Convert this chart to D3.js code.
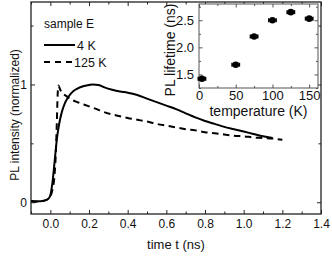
<!DOCTYPE html>
<html>
<head>
<meta charset="UTF-8">
<style>
  body { margin: 0; background: #fff; }
  svg { display: block; }
  text { font-family: "Liberation Sans", Arial, sans-serif; fill: #111; }
  .axis path { display: none; }
  .axis line { stroke: #222; stroke-width: 1; }
  .inset .axis line { stroke: #555; }
</style>
</head>
<body>
<svg width="332" height="256"></svg>
<script src="https://d3js.org/d3.v7.min.js"></script>
<script>
  // 4 K trace (time in ns, normalized PL)
  const t4 = [-0.1, -0.08, -0.06, -0.04, -0.02, -0.01, 0.0, 0.007, 0.014, 0.02, 0.026, 0.034, 0.042, 0.05,
    0.062, 0.075, 0.09, 0.105, 0.12, 0.14, 0.17, 0.2, 0.22, 0.25, 0.28, 0.32, 0.36, 0.40, 0.45, 0.50,
    0.55, 0.60, 0.65, 0.70, 0.75, 0.80, 0.85, 0.90, 0.95, 1.00, 1.05, 1.10, 1.15];
  const pl4 = [0.01, 0.005, 0.008, 0.01, 0.02, 0.03, 0.06, 0.12, 0.21, 0.31, 0.41, 0.54, 0.63, 0.70,
    0.78, 0.84, 0.885, 0.92, 0.945, 0.965, 0.985, 0.995, 1.0, 0.995, 0.975, 0.955, 0.94, 0.93, 0.91, 0.88,
    0.85, 0.82, 0.79, 0.755, 0.72, 0.69, 0.665, 0.64, 0.62, 0.60, 0.58, 0.56, 0.545];

  // 125 K trace
  const t125 = [-0.1, -0.06, -0.02, 0.0, 0.01, 0.02, 0.028, 0.034, 0.038, 0.042, 0.05, 0.06, 0.08, 0.10,
    0.14, 0.19, 0.24, 0.27, 0.32, 0.36, 0.40, 0.45, 0.50, 0.55, 0.60, 0.65, 0.70, 0.75, 0.80, 0.85,
    0.90, 0.95, 1.00, 1.05, 1.10, 1.15, 1.20];
  const pl125 = [0.01, 0.008, 0.02, 0.05, 0.1, 0.2, 0.4, 0.7, 0.92, 0.99, 0.96, 0.93, 0.905, 0.88,
    0.85, 0.82, 0.79, 0.77, 0.745, 0.73, 0.715, 0.70, 0.685, 0.665, 0.65, 0.635, 0.62, 0.61, 0.595, 0.585,
    0.575, 0.565, 0.56, 0.55, 0.545, 0.54, 0.53];

  // inset: lifetime vs temperature
  const temps = [4, 50, 75, 100, 125, 150];
  const lifetimes = [1.42, 1.68, 2.2, 2.5, 2.65, 2.53];
  const tempErr = [5, 5, 5, 5, 5, 5];

  // ticks
  const xMajor = [0, 0.2, 0.4, 0.6, 0.8, 1.0, 1.2, 1.4];
  const xMinor = [-0.1, 0.1, 0.3, 0.5, 0.7, 0.9, 1.1, 1.3];
  const yMajor = [0, 1];
  const yMinor = [0.5, 1.5];
  const inXMajor = [0, 50, 100, 150];
  const inXMinor = [25, 75, 125];
  const inYMajor = [1.5, 2.0, 2.5];
  const inYMinor = [1.25, 1.75, 2.25, 2.75];

  const svg = d3.select('svg');

  // main plot area
  const L = 31, R = 321, T = 2, B = 214;
  const x = d3.scaleLinear().domain([-0.1, 1.4]).range([L, R]);
  const y = d3.scaleLinear().domain([-0.1, 1.7]).range([B, T]);

  function addAxis(g, axis, tx, ty, fs) {
    const a = g.append('g').attr('class', 'axis')
      .attr('transform', `translate(${tx},${ty})`)
      .call(axis);
    a.attr('font-size', fs);
    return a;
  }

  const main = svg.append('g');

  // axis titles first, so tick labels sit on top
  main.append('text')
    .attr('transform', `translate(18.5,115) rotate(-90)`)
    .attr('text-anchor', 'middle').attr('font-size', 12)
    .text('PL intensity (normalized)');
  main.append('text')
    .attr('x', (L + R) / 2).attr('y', 249)
    .attr('text-anchor', 'middle').attr('font-size', 13)
    .text('time t (ns)');

  addAxis(main, d3.axisBottom(x).tickValues(xMajor).tickSize(-4).tickPadding(5).tickFormat(d3.format('.1f')), 0, B, 12);
  addAxis(main, d3.axisBottom(x).tickValues(xMinor).tickSize(-2.5).tickFormat(''), 0, B, 12);
  addAxis(main, d3.axisTop(x).tickValues(xMajor).tickSize(-4).tickFormat(''), 0, T, 12);
  addAxis(main, d3.axisTop(x).tickValues(xMinor).tickSize(-2.5).tickFormat(''), 0, T, 12);
  addAxis(main, d3.axisLeft(y).tickValues(yMajor).tickSize(-4).tickPadding(4).tickFormat(d3.format('d')), L, 0, 12);
  addAxis(main, d3.axisLeft(y).tickValues(yMinor).tickSize(-2.5).tickFormat(''), L, 0, 12);
  addAxis(main, d3.axisRight(y).tickValues(yMajor).tickSize(-4).tickFormat(''), R, 0, 12);
  addAxis(main, d3.axisRight(y).tickValues(yMinor).tickSize(-2.5).tickFormat(''), R, 0, 12);

  main.append('rect')
    .attr('x', L).attr('y', T).attr('width', R - L).attr('height', B - T)
    .attr('fill', 'none').attr('stroke', '#222').attr('stroke-width', 1.3);

  const line = d3.line().x(d => x(d[0])).y(d => y(d[1])).curve(d3.curveMonotoneX);

  main.append('path')
    .datum(d3.zip(t125, pl125))
    .attr('d', line)
    .attr('fill', 'none').attr('stroke', '#000').attr('stroke-width', 2)
    .attr('stroke-dasharray', '6.5,4.5');

  main.append('path')
    .datum(d3.zip(t4, pl4))
    .attr('d', line)
    .attr('fill', 'none').attr('stroke', '#000').attr('stroke-width', 2);

  // legend
  const leg = main.append('g');
  leg.append('text').attr('x', 44).attr('y', 28).attr('font-size', 12).text('sample E');
  leg.append('line').attr('x1', 44).attr('x2', 75).attr('y1', 45).attr('y2', 45)
    .attr('stroke', '#000').attr('stroke-width', 2);
  leg.append('text').attr('x', 77).attr('y', 49.5).attr('font-size', 12.5).text('4 K');
  leg.append('line').attr('x1', 44).attr('x2', 72).attr('y1', 62).attr('y2', 62)
    .attr('stroke', '#000').attr('stroke-width', 2).attr('stroke-dasharray', '6,5');
  leg.append('text').attr('x', 74).attr('y', 66.5).attr('font-size', 12.5).text('125 K');

  // inset
  const iL = 199, iR = 318, iT = 4, iB = 88;
  const ix = d3.scaleLinear().domain([0, 162]).range([iL, iR]);
  const iy = d3.scaleLinear().domain([1.25, 2.8]).range([iB, iT]);

  const inset = svg.append('g').attr('class', 'inset');
  inset.append('rect')
    .attr('x', iL).attr('y', iT).attr('width', iR - iL).attr('height', iB - iT)
    .attr('fill', '#fff').attr('stroke', '#555').attr('stroke-width', 1);

  inset.append('text')
    .attr('transform', `translate(175,50) rotate(-90)`)
    .attr('text-anchor', 'middle').attr('font-size', 14)
    .text('PL lifetime (ns)');
  inset.append('text')
    .attr('x', (iL + iR) / 2).attr('y', 116)
    .attr('text-anchor', 'middle').attr('font-size', 14)
    .text('temperature (K)');

  addAxis(inset, d3.axisBottom(ix).tickValues(inXMajor).tickSize(-3.5).tickPadding(3).tickFormat(d3.format('d')), 0, iB, 13);
  addAxis(inset, d3.axisBottom(ix).tickValues(inXMinor).tickSize(-2).tickFormat(''), 0, iB, 13);
  addAxis(inset, d3.axisTop(ix).tickValues(inXMajor).tickSize(-3.5).tickFormat(''), 0, iT, 13);
  addAxis(inset, d3.axisTop(ix).tickValues(inXMinor).tickSize(-2).tickFormat(''), 0, iT, 13);
  addAxis(inset, d3.axisLeft(iy).tickValues(inYMajor).tickSize(-3.5).tickPadding(5).tickFormat(d3.format('.1f')), iL, 0, 13);
  addAxis(inset, d3.axisLeft(iy).tickValues(inYMinor).tickSize(-2).tickFormat(''), iL, 0, 13);
  addAxis(inset, d3.axisRight(iy).tickValues(inYMajor).tickSize(-3.5).tickFormat(''), iR, 0, 13);
  addAxis(inset, d3.axisRight(iy).tickValues(inYMinor).tickSize(-2).tickFormat(''), iR, 0, 13);

  const pts = temps.map((t, i) => ({ t, v: lifetimes[i], e: tempErr[i] }));
  const eb = inset.append('g').attr('stroke', '#000').attr('stroke-width', 1.5);
  pts.forEach(p => {
    eb.append('line').attr('x1', ix(p.t - p.e)).attr('x2', ix(p.t + p.e))
      .attr('y1', iy(p.v)).attr('y2', iy(p.v));
    [p.t - p.e, p.t + p.e].forEach(c => {
      eb.append('line').attr('x1', ix(c)).attr('x2', ix(c))
        .attr('y1', iy(p.v) - 2).attr('y2', iy(p.v) + 2);
    });
  });
  inset.append('g').selectAll('circle').data(pts).join('circle')
    .attr('cx', d => ix(d.t)).attr('cy', d => iy(d.v)).attr('r', 3.3)
    .attr('fill', '#000');
</script>
</body>
</html>
